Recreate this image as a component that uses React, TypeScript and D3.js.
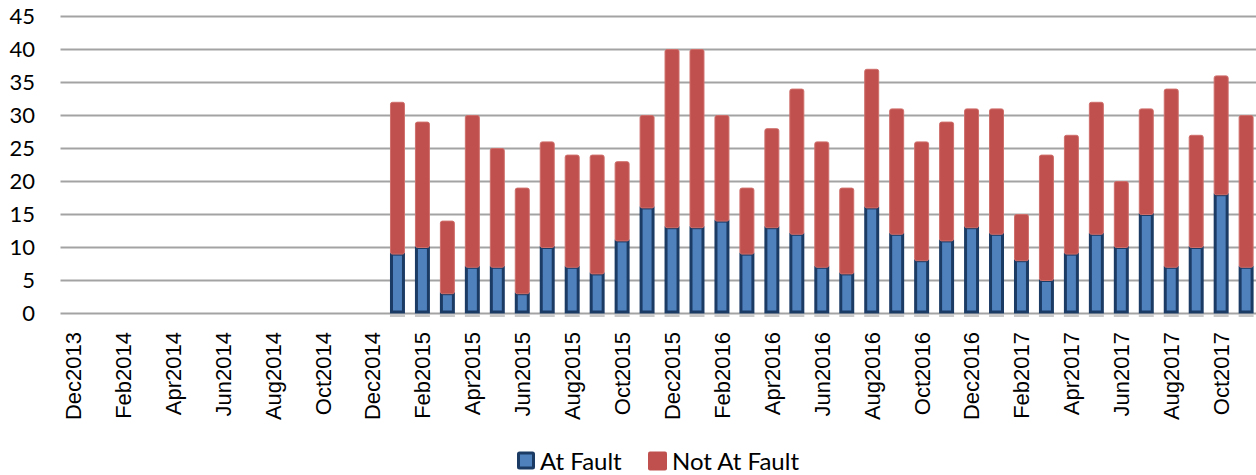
import React from "react";
import * as d3 from "d3";

const categories: string[] = [
  "Dec2013", "Jan2014", "Feb2014", "Mar2014", "Apr2014", "May2014", "Jun2014", "Jul2014",
  "Aug2014", "Sep2014", "Oct2014", "Nov2014", "Dec2014", "Jan2015", "Feb2015", "Mar2015",
  "Apr2015", "May2015", "Jun2015", "Jul2015", "Aug2015", "Sep2015", "Oct2015", "Nov2015",
  "Dec2015", "Jan2016", "Feb2016", "Mar2016", "Apr2016", "May2016", "Jun2016", "Jul2016",
  "Aug2016", "Sep2016", "Oct2016", "Nov2016", "Dec2016", "Jan2017", "Feb2017", "Mar2017",
  "Apr2017", "May2017", "Jun2017", "Jul2017", "Aug2017", "Sep2017", "Oct2017", "Nov2017",
];

const atFault: number[] = [
  0, 0, 0, 0, 0, 0, 0, 0, 0, 0, 0, 0, 0,
  9, 10, 3, 7, 7, 3, 10, 7, 6, 11, 16, 13, 13, 14, 9, 13, 12, 7, 6, 16, 12, 8, 11, 13, 12, 8, 5, 9, 12, 10, 15, 7, 10, 18, 7,
];

const notAtFault: number[] = [
  0, 0, 0, 0, 0, 0, 0, 0, 0, 0, 0, 0, 0,
  23, 19, 11, 23, 18, 16, 16, 17, 18, 12, 14, 27, 27, 16, 10, 15, 22, 19, 13, 21, 19, 18, 18, 18, 19, 7, 19, 18, 20, 10, 16, 27, 17, 18, 23,
];

const yTicks: number[] = [0, 5, 10, 15, 20, 25, 30, 35, 40, 45];

const W = 1256;
const H = 475;
const X0 = 60.5;
const X1 = 1258.6;
const Y0 = 313.5;
const Y1 = 16.5;

export default function App() {
  const x = d3.scaleBand<string>().domain(categories).range([X0, X1]).paddingInner(0.4).paddingOuter(0.2);
  const y = d3.scaleLinear().domain([0, 45]).range([Y0, Y1]);
  const bw = x.bandwidth();
  const tickFont = "Lato, 'Open Sans', sans-serif";
  const labelFont = "'Liberation Sans', Arial, sans-serif";

  return (
    <svg width={W} height={H} style={{ position: "absolute", left: 0, top: 0, background: "#fff" }}>
      {yTicks.map((t) => (
        <g key={t}>
          <line x1={X0} x2={W} y1={y(t)} y2={y(t)} stroke="#a3a3a3" strokeWidth={1.8} />
          <text x={35} y={y(t)} dy="0.36em" textAnchor="end" fontFamily={tickFont} fontSize={22} fill="#000">
            {t}
          </text>
        </g>
      ))}
      {categories.map((c, i) => {
        const a = atFault[i];
        const n = notAtFault[i];
        if (a + n === 0) return null;
        const bx = x(c) as number;
        const yA = y(a);
        const yT = y(a + n);
        return (
          <g key={c}>
            <rect x={bx} y={Y0} width={bw} height={3.5} fill="#c9c9c9" />
            <rect x={bx + 1.5} y={yA} width={bw - 3} height={Y0 - yA - 1.5} fill="#4f81bd" stroke="#1b3a64" strokeWidth={3} />
            <rect x={bx + 0.5} y={yT} width={bw - 1} height={yA - yT} rx={2} fill="#c0504d" stroke="#cf6f6c" strokeWidth={1} />
          </g>
        );
      })}
      {categories.map((c, i) =>
        i % 2 === 0 ? (
          <text
            key={c}
            transform={`translate(${(x(c) as number) + bw / 2},332) rotate(-90)`}
            dy="0.36em"
            textAnchor="end"
            fontFamily={labelFont}
            fontSize={22}
            fill="#000"
          >
            {c}
          </text>
        ) : null
      )}
      <g>
        <rect x={518.5} y={453} width={15} height={15} fill="#4f81bd" stroke="#1b3a64" strokeWidth={3} rx={1} />
        <text x={540} y={461} dy="0.36em" fontFamily={tickFont} fontSize={24} fill="#000">
          At Fault
        </text>
        <rect x={648} y={451.5} width={19} height={19} rx={2} fill="#c0504d" />
        <text x={672} y={461} dy="0.36em" fontFamily={tickFont} fontSize={24} fill="#000">
          Not At Fault
        </text>
      </g>
    </svg>
  );
}
